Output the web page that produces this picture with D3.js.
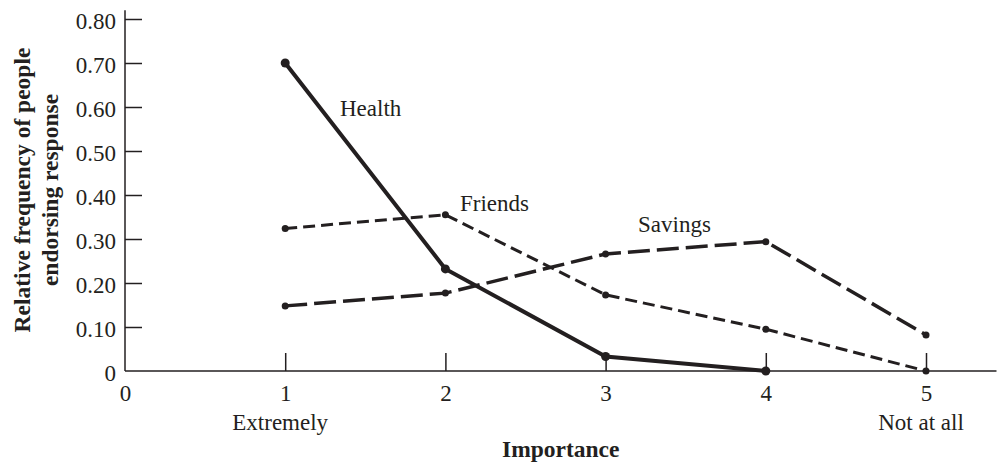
<!DOCTYPE html>
<html>
<head>
<meta charset="utf-8">
<script src="https://cdn.jsdelivr.net/npm/d3@7"></script>
<style>
  html, body { margin: 0; padding: 0; background: #fff; }
  svg { display: block; }
  text { font-family: "Liberation Serif", "Times New Roman", serif; fill: #231f20; }
</style>
</head>
<body>
<svg id="chart" width="997" height="465"></svg>
<script>
// Importance ratings (1 = Extremely ... 5 = Not at all)
const importance = [1, 2, 3, 4, 5];
const health  = [0.70, 0.232, 0.033, 0.00];
const friends = [0.324, 0.355, 0.173, 0.095, 0.00];
const savings = [0.148, 0.177, 0.266, 0.294, 0.082];

const xTickValues = [0, 1, 2, 3, 4, 5];
const yTickValues = [0, 0.1, 0.2, 0.3, 0.4, 0.5, 0.6, 0.7, 0.8];
const endLabels = [{ at: 1, text: "Extremely" }, { at: 5, text: "Not at all" }];

const ink = "#231f20";
const fontSize = 23;
const svg = d3.select("#chart");

const x = d3.scaleLinear().domain([0, 5]).range([125, 926]);
const y = d3.scaleLinear().domain([0, 0.8]).range([371, 19]);
const xEnd = 5.44, yEnd = 0.82;

// Axis lines
svg.append("line")
  .attr("x1", x(0)).attr("x2", x(xEnd)).attr("y1", y(0)).attr("y2", y(0))
  .attr("stroke", ink).attr("stroke-width", 1.5);
svg.append("line")
  .attr("x1", x(0)).attr("x2", x(0)).attr("y1", y(0)).attr("y2", y(yEnd))
  .attr("stroke", ink).attr("stroke-width", 1.5);

// Y axis: ticks point into the plot
const yAxis = d3.axisLeft(y)
  .tickValues(yTickValues)
  .tickSizeInner(-17).tickSizeOuter(0).tickPadding(9)
  .tickFormat(d => d === 0 ? "0" : d3.format(".2f")(d));
const gy = svg.append("g").attr("transform", `translate(${x(0)},0)`).call(yAxis);
gy.select(".domain").remove();
gy.selectAll(".tick line").attr("stroke", ink).attr("stroke-width", 1.5)
  .filter(d => d === 0).remove();
gy.selectAll(".tick text")
  .attr("font-family", "Liberation Serif").attr("font-size", fontSize)
  .attr("fill", ink).attr("dy", "0.4em");

// X axis: ticks point upward into the plot
const xAxis = d3.axisBottom(x)
  .tickValues(xTickValues)
  .tickSizeInner(-18).tickSizeOuter(0).tickPadding(14)
  .tickFormat(d3.format("d"));
const gx = svg.append("g").attr("transform", `translate(0,${y(0)})`).call(xAxis);
gx.select(".domain").remove();
gx.selectAll(".tick line").attr("stroke", ink).attr("stroke-width", 1.5)
  .filter(d => d === 0).remove();
gx.selectAll(".tick text")
  .attr("font-family", "Liberation Serif").attr("font-size", fontSize).attr("fill", ink);

// Verbal anchors under the first and last ratings
svg.selectAll("text.anchor").data(endLabels).join("text")
  .attr("class", "anchor")
  .attr("x", d => x(d.at) - 5).attr("y", 430)
  .attr("text-anchor", "middle").attr("font-size", fontSize)
  .text(d => d.text);

// Axis titles
svg.append("text")
  .attr("x", (x(0) + x(xEnd)) / 2).attr("y", 457)
  .attr("text-anchor", "middle").attr("font-size", 23.5).attr("font-weight", "bold")
  .text("Importance");

const yTitle = svg.append("text")
  .attr("transform", `translate(0,190) rotate(-90)`)
  .attr("text-anchor", "middle").attr("font-size", 23.5).attr("font-weight", "bold");
yTitle.append("tspan").attr("x", 0).attr("y", 30).text("Relative frequency of people");
yTitle.append("tspan").attr("x", 0).attr("y", 58).text("endorsing response");

// Series
const series = [
  { name: "Health",  values: health,  dash: null,   width: 4,   r: 4.5, label: [340, 116] },
  { name: "Friends", values: friends, dash: "12,6", width: 3,   r: 3.5, label: [460, 211] },
  { name: "Savings", values: savings, dash: "22,7", width: 3.5, r: 3.5, label: [638, 232] }
];

const line = d3.line().x(d => x(d[0])).y(d => y(d[1]));

series.forEach(s => {
  const pts = s.values.map((v, i) => [importance[i], v]);
  svg.append("path")
    .attr("d", line(pts))
    .attr("fill", "none").attr("stroke", ink)
    .attr("stroke-width", s.width)
    .attr("stroke-dasharray", s.dash)
    .attr("stroke-linejoin", "miter");
  svg.append("g").selectAll("circle").data(pts).join("circle")
    .attr("cx", d => x(d[0])).attr("cy", d => y(d[1]))
    .attr("r", s.r).attr("fill", ink);
  svg.append("text")
    .attr("x", s.label[0]).attr("y", s.label[1])
    .attr("font-size", fontSize)
    .text(s.name);
});
</script>
</body>
</html>
